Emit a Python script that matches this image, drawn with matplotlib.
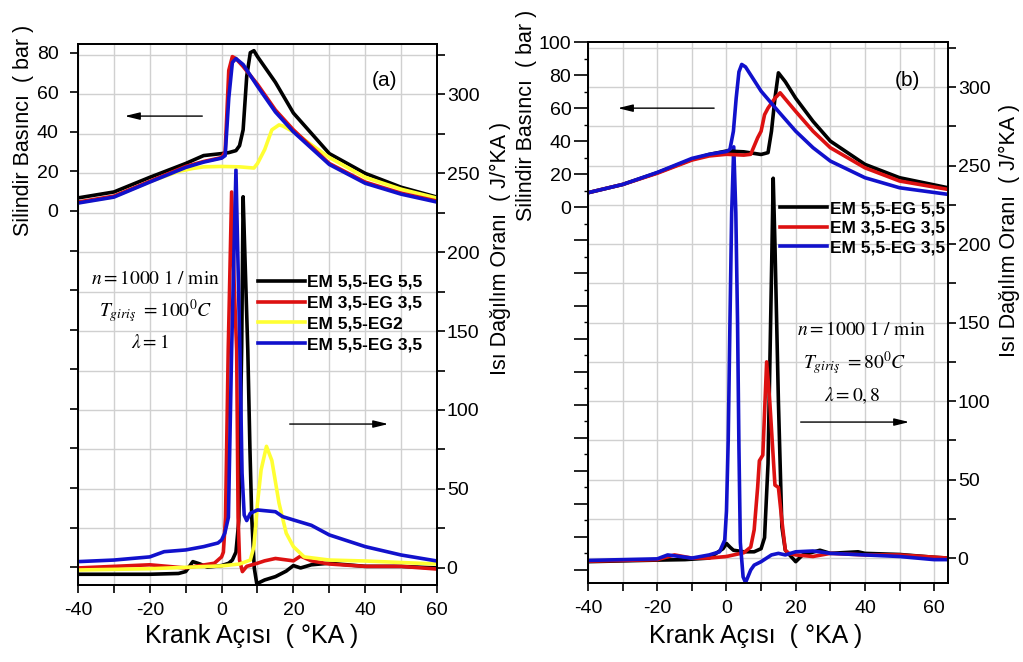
import matplotlib
matplotlib.use('Agg')
import matplotlib.pyplot as plt
from matplotlib.ticker import MultipleLocator, FuncFormatter

plt.rcParams['font.family'] = ['Liberation Sans', 'DejaVu Sans']
plt.rcParams['mathtext.fontset'] = 'stix'
plt.rcParams['axes.unicode_minus'] = False

# series names and colours
NAMES_A = ['EM 5,5-EG 5,5', 'EM 3,5-EG 3,5', 'EM 5,5-EG2', 'EM 5,5-EG 3,5']
NAMES_B = ['EM 5,5-EG 5,5', 'EM 3,5-EG 3,5', 'EM 5,5-EG 3,5']
COLORS = {'black': '#000000', 'red': '#dd1111', 'yellow': '#ffff33', 'blue': '#1111cc'}

# --- panel (a): cylinder pressure (bar) ---
A_P_BLACK_X = [-40, -30, -20, -10, -5, 0, 2, 4, 5, 6, 7, 8, 9, 10, 15, 20, 30, 40, 50, 60]
A_P_BLACK_Y = [6.6, 9.6, 17, 24, 28, 29, 29.5, 30.5, 33, 41, 68, 80, 81, 78, 65, 49.5, 29, 19, 12, 7]
A_P_RED_X = [-40, -30, -20, -10, -5, 0, 1, 2, 3, 4, 6, 10, 15, 20, 30, 40, 50, 60]
A_P_RED_Y = [4.5, 7.5, 15, 22.5, 25, 27, 30, 71, 78, 77, 73, 64, 51, 41, 24, 14.6, 9, 5]
A_P_YELLOW_X = [-40, -30, -20, -12, -8, -5, 0, 5, 9, 10, 12, 14, 16, 17, 20, 30, 40, 50, 60]
A_P_YELLOW_Y = [4.2, 7.2, 14.8, 20, 21.5, 22.3, 22.5, 22.3, 21.7, 24, 31, 41, 43.5, 43, 40, 27, 17, 11, 6.5]
A_P_BLUE_X = [-40, -30, -20, -10, -5, 0, 1, 2, 3, 4, 6, 10, 15, 20, 30, 40, 50, 60]
A_P_BLUE_Y = [4, 7, 14.6, 22, 24.7, 26.7, 28, 57, 75, 77, 74, 63, 50, 40, 23.5, 14, 8.5, 4.5]

# --- panel (a): heat release rate (J/KA) ---
A_Q_BLACK_X = [-40, -20, -12, -10, -8, -6, -4, 0, 2, 3, 4, 4.8, 5.6, 6.0, 6.6, 7.3, 7.9, 8.4, 9.1, 9.8,
               12, 15, 18, 20, 22, 25, 30, 40, 50, 60]
A_Q_BLACK_Y = [-4, -4, -3.5, -2.3, 4, 2.5, 0.5, 1.5, 3, 5, 10, 30, 140, 235, 190, 138, 75, 32, 0, -10,
               -7.6, -5.5, -2, 1.5, 0, 2, 3, 1, 1, 0]
A_Q_RED_X = [-40, -30, -20, -10, -2, 0, 0.5, 1.1, 1.85, 2.8, 3.5, 4.2, 4.6, 5.0, 5.8, 7, 10, 12, 15,
             20, 22, 25, 30, 40, 50, 60]
A_Q_RED_Y = [0, 1, 2, 0, 3, 7, 10, 32, 138, 238, 180, 138, 32, 5, -2.3, 1, 3, 4.5, 6,
             4.5, 7.5, 4.5, 2.5, 1, 1, -0.7]
A_Q_YELLOW_X = [-40, -20, 0, 5, 8, 9, 10, 11, 12.5, 14, 16, 18, 20, 23, 30, 40, 60]
A_Q_YELLOW_Y = [-1.3, -0.5, 1.3, 2.5, 5, 13.5, 41, 62, 77, 68, 41, 22, 13.5, 7, 5, 4.4, 2.5]
A_Q_BLUE_X = [-40, -30, -20, -16, -10, -5, -1, 0, 0.9, 1.9, 2.8, 4.0, 5.1, 5.7, 6.3, 7, 8, 10, 15, 17,
              20, 25, 30, 40, 50, 60]
A_Q_BLUE_Y = [4, 5, 7, 10.3, 11.4, 13.5, 15.8, 17.7, 22, 32, 138, 252, 138, 60, 33.5, 30, 34.6, 36.7, 35.6, 32.5,
              30.4, 27, 20.9, 13.5, 8.2, 4.4]

# --- panel (b): cylinder pressure (bar) ---
B_P_BLACK_X = [-40, -30, -20, -10, -5, 0, 5, 10, 12, 13, 14, 15, 17, 20, 25, 30, 40, 50, 64]
B_P_BLACK_Y = [8.7, 13.7, 20.8, 28.9, 31.9, 34, 33.5, 31.9, 33, 46, 66, 81.4, 76, 66, 52, 40, 25.9, 17.8, 11.7]
B_P_RED_X = [-40, -30, -20, -10, -5, 0, 5, 7, 8, 9, 10, 11, 12, 14, 15.5, 18, 20, 25, 30, 40, 50, 64]
B_P_RED_Y = [8.7, 13.7, 20.5, 28.5, 31, 32, 31.5, 32, 37, 42, 46, 56, 60, 66, 69.3, 63, 58, 46, 36, 23.8, 15.8, 10.7]
B_P_BLUE_X = [-40, -30, -20, -10, -5, 0, 1, 2, 2.8, 3.6, 4.4, 5.5, 10, 15, 20, 25, 30, 40, 50, 64]
B_P_BLUE_Y = [8.7, 13.7, 21, 29.5, 32, 33.7, 35, 46, 66, 82, 86.5, 85, 70.3, 58, 46, 36, 27.9, 17.8, 11.7, 7.7]

# --- panel (b): heat release rate (J/KA) ---
B_Q_BLACK_X = [-40, -20, -12, -5, -1, 0, 1, 2, 5, 8, 10, 11, 12, 13, 13.5, 14, 15, 16, 17, 20, 22, 27, 30,
               38, 40, 50, 60, 64]
B_Q_BLACK_Y = [-2.3, -1.3, -1, 0, 6, 9.3, 7, 5, 4, 4, 6, 13, 60, 180, 242, 200, 100, 20, 5, -2.3, 2, 5, 3,
               4, 3, 2.3, 0.5, 0]
B_Q_RED_X = [-40, -20, -15, -10, -5, 0, 5, 7, 8, 9, 9.5, 10.5, 11.6, 12.5, 14, 15, 16, 17, 18, 20, 25, 30,
             40, 50, 64]
B_Q_RED_Y = [-2, -1, 2, 0, 0, 1, 3.4, 7, 18, 45, 62, 65.6, 125, 100, 46.5, 45, 24, 5, 3, 2, 1, 3,
             2, 2, 0]
B_Q_BLUE_X = [-40, -20, -17, -10, -5, -2, -0.5, 0, 0.5, 1.0, 1.5, 2.1, 2.7, 3.2, 3.6, 4.0, 4.8, 5.5, 6, 7, 8,
              10, 13, 15, 17, 20, 25, 30, 40, 50, 60, 64]
B_Q_BLUE_Y = [-1.5, -0.5, 2, 0, 2, 4, 11.5, 30, 75, 150, 220, 262, 220, 150, 70, 10, -12, -15.5, -13, -7.6, -4.5,
              -2.3, 2, 3, 2, 4, 4.5, 3, 2, 1, -1, -1]


def setup_panel(rect, xlim, p_lim, q_lim, left_pad, left_len):
    ax = fig.add_axes(rect)       # heat release, ticks on the right
    ax2 = ax.twinx()              # pressure, ticks on the left
    ax.yaxis.tick_right()
    ax2.yaxis.tick_left()

    ax.set_xlim(*xlim)
    ax.set_ylim(*q_lim)
    ax2.set_ylim(*p_lim)

    ax.xaxis.set_major_locator(MultipleLocator(20))
    ax.xaxis.set_minor_locator(MultipleLocator(10))
    ax.yaxis.set_major_locator(MultipleLocator(50))
    ax.yaxis.set_minor_locator(MultipleLocator(25))
    ax2.yaxis.set_major_locator(MultipleLocator(20))
    ax2.yaxis.set_major_formatter(FuncFormatter(lambda v, p: '%d' % v if v >= 0 else ''))

    ax.tick_params(axis='x', which='both', direction='out', length=6, width=1.2, labelsize=14, pad=6)
    ax.tick_params(axis='y', which='both', direction='out', length=6, width=1.2, labelsize=14, pad=1,
                   right=True, left=False)
    ax2.tick_params(axis='y', which='major', direction='out', length=left_len, width=1.2, labelsize=14,
                    pad=left_pad)

    ax.grid(which='both', color='#d0d0d0', linewidth=1.0)
    for a in (ax, ax2):
        for s in a.spines.values():
            s.set_linewidth(1.3)
    return ax, ax2


fig = plt.figure(figsize=(10.23, 6.62), dpi=100)
lw = 2.6
arrow = dict(arrowstyle='-|>,head_length=0.9,head_width=0.22', color='black', lw=1.0)
legend_kw = dict(loc='upper left', bbox_transform=fig.transFigure, frameon=False, borderpad=0,
                 borderaxespad=0, handlelength=2.7, handletextpad=0.15,
                 prop={'weight': 'bold', 'size': 12.5})

# ---------------- panel (a) ----------------
ax, ax2 = setup_panel([0.0762, 0.1163, 0.351, 0.817], (-40, 60), (-189, 84.3), (-10.8, 331.6), 8, 6)
q_lines = []
for (qx, qy, c) in [(A_Q_BLACK_X, A_Q_BLACK_Y, 'black'), (A_Q_RED_X, A_Q_RED_Y, 'red'),
                    (A_Q_YELLOW_X, A_Q_YELLOW_Y, 'yellow'), (A_Q_BLUE_X, A_Q_BLUE_Y, 'blue')]:
    ln, = ax.plot(qx, qy, color=COLORS[c], lw=lw)
    q_lines.append(ln)
for (px, py, c) in [(A_P_BLACK_X, A_P_BLACK_Y, 'black'), (A_P_YELLOW_X, A_P_YELLOW_Y, 'yellow'),
                    (A_P_RED_X, A_P_RED_Y, 'red'), (A_P_BLUE_X, A_P_BLUE_Y, 'blue')]:
    ax2.plot(px, py, color=COLORS[c], lw=lw)

ax2.legend(q_lines, NAMES_A, bbox_to_anchor=(0.2522, 0.585), labelspacing=0.32, **legend_kw)

ax2.text(0.855, 0.933, '(a)', transform=ax2.transAxes, ha='center', va='center', fontsize=15)
ax2.text(0.215, 0.565, r'$n=1000\ 1\ /\ \min$', transform=ax2.transAxes, ha='center', va='center', fontsize=14)
ax2.text(0.215, 0.506, r'$T_{giriş}\ =100^0C$', transform=ax2.transAxes, ha='center', va='center', fontsize=14)
ax2.text(0.2, 0.447, r'$\lambda=1$', transform=ax2.transAxes, ha='center', va='center', fontsize=14)

ax2.annotate('', xy=(0.1226, 0.867), xytext=(0.354, 0.867), xycoords='axes fraction', arrowprops=arrow)
ax2.annotate('', xy=(0.872, 0.2976), xytext=(0.582, 0.2976), xycoords='axes fraction', arrowprops=arrow)

# ---------------- panel (b) ----------------
bx, bx2 = setup_panel([0.5748, 0.1193, 0.3519, 0.817], (-40, 64), (-228, 100), (-15.9, 328.7), 2, 10)
bx2.yaxis.set_minor_locator(MultipleLocator(10))
bx2.tick_params(axis='y', which='minor', direction='out', length=3, width=1.0)
q_lines = []
for (qx, qy, c) in [(B_Q_BLACK_X, B_Q_BLACK_Y, 'black'), (B_Q_RED_X, B_Q_RED_Y, 'red'),
                    (B_Q_BLUE_X, B_Q_BLUE_Y, 'blue')]:
    ln, = bx.plot(qx, qy, color=COLORS[c], lw=lw)
    q_lines.append(ln)
for (px, py, c) in [(B_P_BLACK_X, B_P_BLACK_Y, 'black'), (B_P_RED_X, B_P_RED_Y, 'red'),
                    (B_P_BLUE_X, B_P_BLUE_Y, 'blue')]:
    bx2.plot(px, py, color=COLORS[c], lw=lw)

bx2.legend(q_lines, NAMES_B, bbox_to_anchor=(0.7625, 0.696), labelspacing=0.25, **legend_kw)

bx2.text(0.886, 0.93, '(b)', transform=bx2.transAxes, ha='center', va='center', fontsize=15)
bx2.text(0.76, 0.467, r'$n=1000\ 1\ /\ \min$', transform=bx2.transAxes, ha='center', va='center', fontsize=14)
bx2.text(0.74, 0.406, r'$T_{giriş}\ =80^0C$', transform=bx2.transAxes, ha='center', va='center', fontsize=14)
bx2.text(0.735, 0.346, r'$\lambda=0,8$', transform=bx2.transAxes, ha='center', va='center', fontsize=14)

bx2.annotate('', xy=(0.075, 0.878), xytext=(0.358, 0.878), xycoords='axes fraction', arrowprops=arrow)
bx2.annotate('', xy=(0.9, 0.2976), xytext=(0.583, 0.2976), xycoords='axes fraction', arrowprops=arrow)

# axis titles
fig.text(0.0225, 0.8036, 'Silindir Basıncı  ( bar )', rotation=90, ha='center', va='center', fontsize=15.5)
fig.text(0.4888, 0.6254, 'Isı Dağılım Oranı  ( J/°KA )', rotation=90, ha='center', va='center', fontsize=15.5)
fig.text(0.515, 0.826, 'Silindir Basıncı  ( bar )', rotation=90, ha='center', va='center', fontsize=15.5)
fig.text(0.987, 0.6526, 'Isı Dağılım Oranı  ( J/°KA )', rotation=90, ha='center', va='center', fontsize=15.5)
fig.text(0.246, 0.039, 'Krank Açısı  ( °KA )', ha='center', va='center', fontsize=18)
fig.text(0.739, 0.039, 'Krank Açısı  ( °KA )', ha='center', va='center', fontsize=18)

fig.savefig('out.png', dpi=100)
